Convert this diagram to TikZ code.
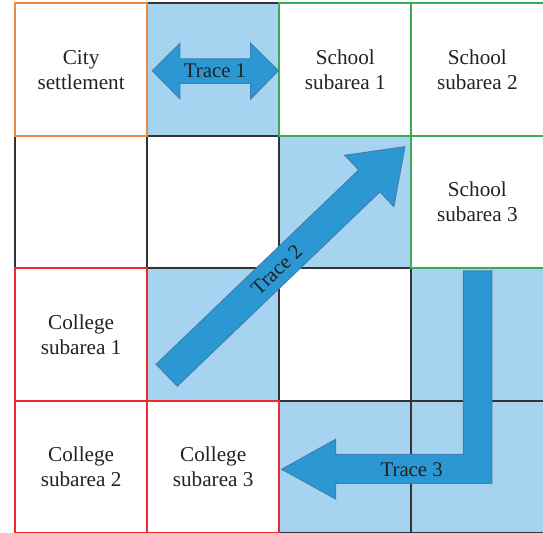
\documentclass[tikz,border=0pt]{standalone}
\usepackage{fontspec}
\setmainfont{Liberation Serif}
\usepackage{xcolor}
\usetikzlibrary{positioning}

\definecolor{cellblue}{HTML}{A6D4F0}
\definecolor{arrowblue}{HTML}{2B98D4}
\definecolor{arrowline}{HTML}{3F7FB3}
\definecolor{cityorange}{HTML}{E98A45}
\definecolor{schoolgreen}{HTML}{3BAA55}
\definecolor{collegered}{HTML}{EC2B2F}
\definecolor{gridline}{HTML}{333333}
\definecolor{textgray}{HTML}{222222}

\begin{document}
\begin{tikzpicture}[
    x=0.5pt, y=-0.5pt,
    cell/.style={rectangle, draw=gridline, line width=1pt, fill=white, minimum width=66.3pt, minimum height=66.3pt, inner sep=0pt, outer sep=0pt, align=center, text=textgray, font=\fontsize{10.6}{12.5}\selectfont},
    bluecell/.style={cell, fill=cellblue},
    citycell/.style={cell, draw=cityorange},
    schoolcell/.style={cell, draw=schoolgreen},
    collegecell/.style={cell, draw=collegered},
    trace/.style={fill=arrowblue, draw=arrowline, line width=0.5pt, line join=miter},
    tracelabel/.style={text=textgray, inner sep=0pt, font=\fontsize{10.4}{12}\selectfont}
]
    \useasboundingbox (0,0) rectangle (543,533);

    % plain grid cells first
    \node[bluecell] (tcell1) at (213.2,69.7) {};
    \node[cell] (blank1) at (81.1,202.2) {};
    \node[cell] (blank2) at (213.2,202.2) {};
    \node[bluecell] (tcell2) at (345.3,202.2) {};
    \node[bluecell] (tcell3) at (213.2,334.7) {};
    \node[cell] (blank3) at (345.3,334.7) {};
    \node[bluecell] (tcell4) at (477.4,334.7) {};
    \node[bluecell] (tcell5) at (345.3,467.2) {};
    \node[bluecell] (tcell6) at (477.4,467.2) {};

    % coloured areas on top
    \node[citycell] (city) at (81.1,69.7) {City\\settlement};
    \node[schoolcell] (school1) at (345.3,69.7) {School\\subarea 1};
    \node[schoolcell] (school2) at (477.4,69.7) {School\\subarea 2};
    \node[schoolcell] (school3) at (477.4,202.2) {School\\subarea 3};
    \node[collegecell] (college1) at (81.1,334.7) {College\\subarea 1};
    \node[collegecell] (college2) at (81.1,467.2) {College\\subarea 2};
    \node[collegecell] (college3) at (213.2,467.2) {College\\subarea 3};

    % Trace 1
    \draw[trace] (152.3,70.7) -- (180,43.3) -- (180,59) -- (250.7,59) -- (250.7,43.3)
        -- (278.3,70.7) -- (250.7,99) -- (250.7,83.3) -- (180,83.3) -- (180,99) -- cycle;
    \node[tracelabel] (trace1) at (215,70.7) {Trace 1};

    % Trace 2
    \begin{scope}[shift={(166.7,375.2)}, rotate=43.8]
        \draw[trace] (0,-15.2) -- (280.7,-15.2) -- (280.7,-35.5) -- (330.1,0)
            -- (280.7,35.5) -- (280.7,15.2) -- (0,15.2) -- cycle;
        \node[tracelabel, rotate=43.8] (trace2) at (152.2,0) {Trace 2};
    \end{scope}

    % Trace 3
    \draw[trace] (463.3,271) -- (492,271) -- (492,483.3) -- (335.7,483.3) -- (335.7,499)
        -- (281.7,469.3) -- (335.7,439.3) -- (335.7,454.3) -- (463.3,454.3) -- cycle;
    \node[tracelabel] (trace3) at (411.7,469.3) {Trace 3};
\end{tikzpicture}
\end{document}
